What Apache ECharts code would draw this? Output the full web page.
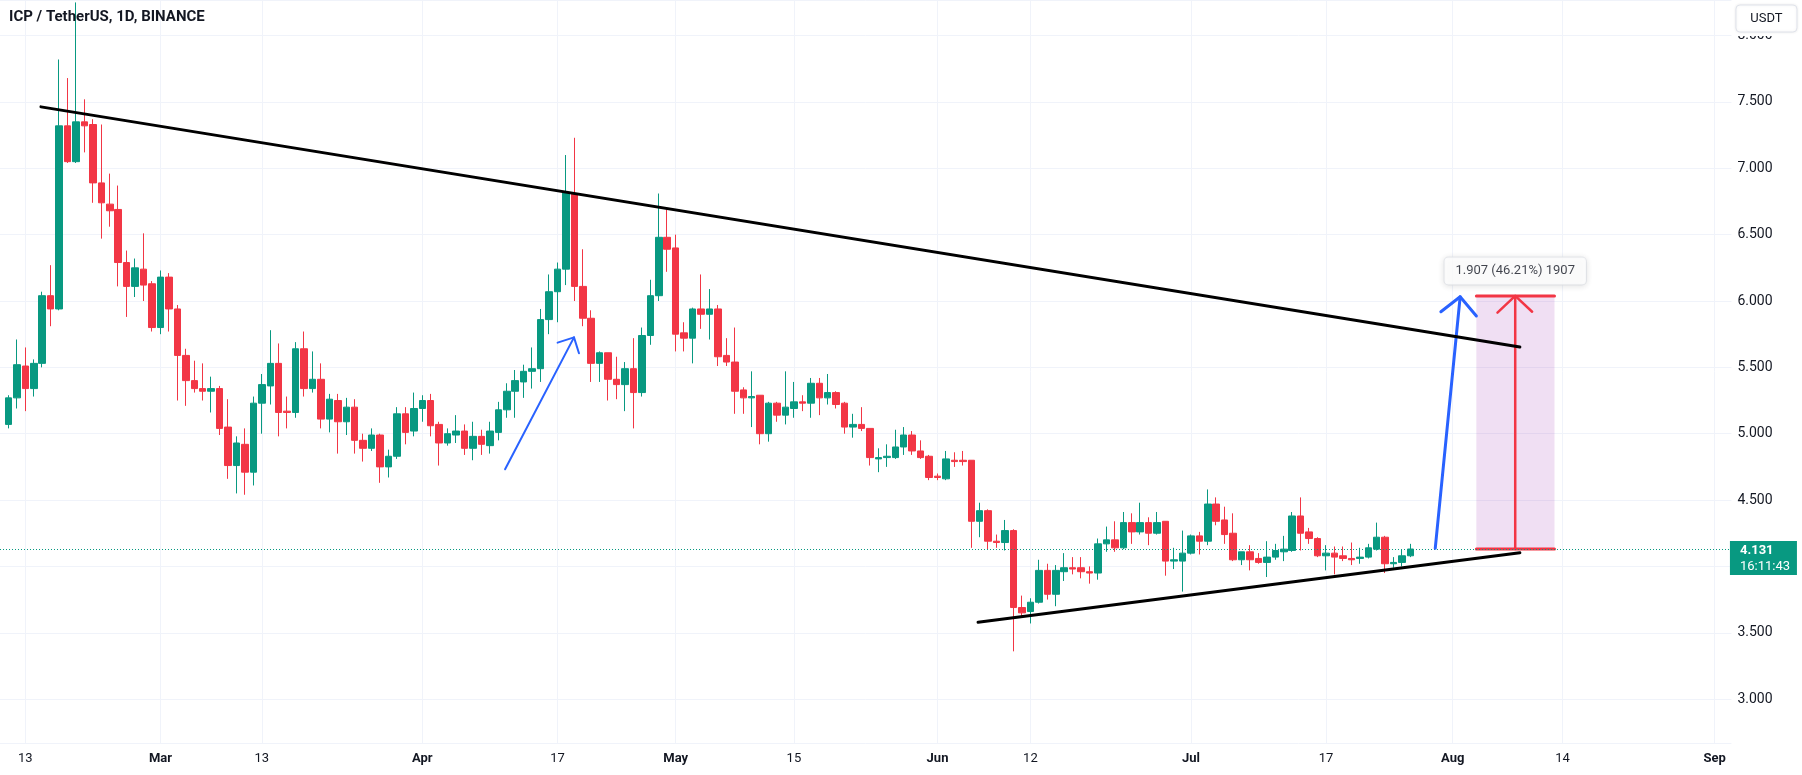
<!DOCTYPE html>
<html><head><meta charset="utf-8">
<script src="https://cdn.jsdelivr.net/npm/echarts@6/dist/echarts.min.js"></script>
<style>html,body{margin:0;padding:0;background:#fff}#c{width:1802px;height:775px}</style>
</head><body><div id="c"></div>
<script>
// ---------------- data ----------------
const chartTitle = 'ICP / TetherUS, 1D, BINANCE';
const axisStart = '2023-02-10';   // first category on the time axis (day offset -3)
const axisEnd   = '2023-09-03';   // last category (day offset 202)
const candleStart = '2023-02-11'; // date of first candle

const opens = [
 5.07,5.27,5.51,5.34,5.53,6.04,5.94,7.32,7.05,7.35,
 7.33,6.89,6.73,6.69,6.29,6.11,6.24,6.13,5.80,6.18,
 5.94,5.59,5.40,5.34,5.32,5.34,5.05,4.76,4.92,4.71,
 5.23,5.36,5.53,5.17,5.16,5.64,5.34,5.41,5.11,5.25,
 5.09,5.20,4.95,4.89,4.99,4.75,4.83,5.15,5.02,5.19,
 5.25,5.07,4.93,4.99,5.02,4.89,4.98,4.91,5.01,5.18,
 5.32,5.39,5.47,5.49,5.86,6.07,6.24,6.81,6.11,5.87,
 5.53,5.61,5.41,5.37,5.49,5.31,5.74,6.04,6.48,6.40,
 5.76,5.72,5.94,5.90,5.94,5.59,5.54,5.33,5.27,5.29,
 5.00,5.23,5.14,5.19,5.24,5.23,5.38,5.27,5.31,5.23,
 5.05,5.07,5.04,4.81,4.82,4.82,4.90,4.99,4.87,4.83,
 4.68,4.66,4.80,4.80,4.80,4.34,4.42,4.19,4.18,4.27,
 3.69,3.66,3.73,3.97,3.79,3.96,3.99,3.99,3.96,3.95,
 4.17,4.20,4.14,4.33,4.26,4.33,4.25,4.34,4.04,4.04,
 4.10,4.23,4.19,4.47,4.35,4.25,4.05,4.11,4.06,4.03,
 4.07,4.11,4.12,4.38,4.26,4.21,4.08,4.10,4.08,4.06,
 4.06,4.07,4.13,4.22,4.02,4.03,4.08
];
const closes = [
 5.27,5.52,5.34,5.53,6.04,5.94,7.32,7.05,7.35,7.32,
 6.89,6.74,6.68,6.29,6.11,6.25,6.12,5.80,6.18,5.94,
 5.59,5.40,5.34,5.32,5.34,5.04,4.76,4.93,4.71,5.23,
 5.37,5.53,5.16,5.16,5.64,5.34,5.41,5.11,5.26,5.09,
 5.20,4.95,4.89,4.99,4.75,4.83,5.15,5.01,5.19,5.25,
 5.06,4.93,5.00,5.02,4.89,4.98,4.92,5.02,5.18,5.32,
 5.40,5.47,5.49,5.86,6.07,6.24,6.82,6.11,5.87,5.53,
 5.61,5.41,5.37,5.49,5.31,5.74,6.04,6.48,6.39,5.75,
 5.72,5.94,5.90,5.94,5.58,5.54,5.32,5.27,5.28,5.00,
 5.23,5.14,5.20,5.24,5.23,5.38,5.27,5.31,5.22,5.05,
 5.07,5.04,4.82,4.82,4.83,4.90,4.99,4.87,4.82,4.67,
 4.67,4.81,4.79,4.79,4.34,4.42,4.19,4.18,4.27,3.69,
 3.65,3.73,3.97,3.79,3.97,3.99,3.98,3.96,3.95,4.17,
 4.20,4.14,4.33,4.26,4.33,4.25,4.33,4.04,4.05,4.10,
 4.23,4.19,4.47,4.34,4.24,4.05,4.11,4.05,4.03,4.07,
 4.12,4.13,4.38,4.25,4.21,4.08,4.10,4.07,4.06,4.05,
 4.07,4.14,4.22,4.02,4.03,4.08,4.131
];
const lows = [
 5.04,5.19,5.17,5.28,5.50,5.81,5.93,7.04,7.04,7.12,
 6.74,6.47,6.56,6.11,5.88,6.03,6.00,5.77,5.75,5.77,
 5.25,5.21,5.31,5.25,5.16,4.99,4.66,4.55,4.54,4.61,
 5.00,5.22,4.98,5.04,5.12,5.28,5.31,5.04,5.01,4.85,
 4.99,4.85,4.79,4.87,4.63,4.67,4.81,4.92,4.98,5.09,
 4.98,4.76,4.91,4.93,4.84,4.80,4.84,4.85,4.95,5.12,
 5.12,5.27,5.34,5.39,5.75,5.84,6.12,6.00,5.81,5.39,
 5.39,5.25,5.26,5.17,5.04,5.28,5.67,6.00,6.22,5.62,
 5.62,5.53,5.79,5.71,5.51,5.51,5.15,5.15,5.05,4.92,
 4.94,5.09,5.07,5.12,5.17,5.12,5.14,5.22,5.19,5.00,
 4.97,5.02,4.76,4.71,4.75,4.81,4.84,4.84,4.81,4.65,
 4.65,4.65,4.75,4.76,4.14,4.22,4.13,4.14,4.12,3.36,
 3.62,3.57,3.72,3.75,3.70,3.89,3.94,3.91,3.87,3.90,
 4.11,4.11,4.13,4.17,4.24,4.16,4.24,3.93,3.98,3.81,
 4.09,4.09,4.16,4.31,4.17,4.04,4.01,3.97,4.02,3.92,
 4.05,4.04,4.11,4.12,4.17,4.07,3.97,3.94,4.04,4.01,
 4.02,4.06,4.12,3.95,3.99,4.00,4.07
];
const highs = [
 5.29,5.71,5.65,5.56,6.07,6.27,7.82,7.68,8.25,7.52,
 7.37,7.33,6.96,6.87,6.38,6.32,6.51,6.15,6.23,6.21,
 5.97,5.64,5.55,5.53,5.43,5.36,5.26,4.98,5.04,5.28,
 5.45,5.78,5.68,5.28,5.69,5.77,5.62,5.53,5.30,5.30,
 5.27,5.26,5.00,5.04,5.00,4.88,5.20,5.20,5.31,5.29,
 5.30,5.09,5.04,5.14,5.07,5.09,5.03,5.09,5.24,5.38,
 5.48,5.52,5.65,5.94,6.20,6.29,7.10,7.23,6.39,5.93,
 5.62,5.61,5.58,5.54,5.72,5.80,6.16,6.81,6.69,6.50,
 5.84,5.95,6.20,6.09,5.97,5.72,5.80,5.35,5.47,5.29,
 5.24,5.24,5.47,5.39,5.29,5.42,5.42,5.45,5.32,5.24,
 5.15,5.20,5.04,4.89,4.92,5.03,5.05,5.02,4.95,4.84,
 4.70,4.87,4.86,4.87,4.80,4.48,4.43,4.24,4.35,4.28,
 3.78,3.76,4.05,4.02,4.01,4.10,4.07,4.07,4.00,4.21,
 4.30,4.34,4.41,4.40,4.48,4.37,4.41,4.34,4.14,4.27,
 4.24,4.26,4.58,4.52,4.45,4.40,4.11,4.16,4.10,4.19,
 4.17,4.23,4.41,4.52,4.29,4.22,4.16,4.15,4.15,4.18,
 4.14,4.17,4.33,4.23,4.07,4.13,4.17
];

const tickDates  = ['2023-02-13','2023-03-01','2023-03-13','2023-04-01','2023-04-17','2023-05-01','2023-05-15','2023-06-01','2023-06-12','2023-07-01','2023-07-17','2023-08-01','2023-08-14','2023-09-01'];
const tickLabels = ['13','Mar','13','Apr','17','May','15','Jun','12','Jul','17','Aug','14','Sep'];

const priceMin = 2.6692, priceMax = 8.2683;
const lastPrice = 4.131;
const countdown = '16:11:43';
const quoteCurrency = 'USDT';

// drawings: [day offset from 2023-02-13, price]
const resistanceLine = [[1.85, 7.463], [176.95, 5.653]];
const supportLine    = [[112.8, 3.579], [176.95, 4.103]];
const blueArrow1     = [[56.8, 4.732], [64.96, 5.726]];
const blueArrow1Head = [[63.02, 5.686], [64.96, 5.726], [65.55, 5.606]];
const blueArrow2     = [[166.93, 4.136], [169.88, 6.032]];
const blueArrow2Head = [[167.6, 5.919], [169.88, 6.032], [171.8, 5.887]];
const rangeX         = [171.8, 181.05];
const rangeFrom = 4.131, rangeTo = 6.038;
const rangeArrowX = 176.4;
const rangeArrowHead = [[174.3, 5.912], [176.4, 6.038], [178.4, 5.919]];
const rangeLabel = '1.907 (46.21%) 1907';
const rangeLabelPos = [176.4, 6.226];
const dayMin = -3, dayMax = 202;

// ---------------- build ----------------
function dayStr(ms){ return new Date(ms).toISOString().slice(0,10); }
const DAY = 86400000;
const t0 = Date.parse(axisStart + 'T00:00:00Z'), t1 = Date.parse(axisEnd + 'T00:00:00Z');
const categories = [];
for (let t = t0; t <= t1; t += DAY) categories.push(dayStr(t));
const lead = categories.indexOf(candleStart);
const candleData = [];
for (let i = 0; i < lead; i++) candleData.push('-');
for (let i = 0; i < opens.length; i++) candleData.push([opens[i], closes[i], lows[i], highs[i]]);

const UP = '#089981', DOWN = '#f23645', TXT = '#131722', GRID = '#f0f3fa';
const isTick = (idx, val) => tickDates.indexOf(val) >= 0;

function lineSeries(data, color, width, z){
  return {type:'line', xAxisIndex:1, yAxisIndex:0, data, symbol:'none', showSymbol:false,
    silent:true, z, animation:false, lineStyle:{color, width, cap:'round', join:'round'}};
}

const chart = echarts.init(document.getElementById('c'), null, {renderer:'canvas'});
const option = {
  animation:false,
  backgroundColor:'#ffffff',
  textStyle:{fontFamily:'Roboto'},
  title:{text:chartTitle, left:9, top:10, padding:0,
    textStyle:{fontSize:15, fontWeight:'bold', color:TXT, fontFamily:'Roboto'}},
  grid:{left:-4.91, top:0, width:1736.35, height:743, containLabel:false},
  xAxis:[{
    type:'category', data:categories, boundaryGap:false,
    axisLine:{show:false}, axisTick:{show:false},
    axisLabel:{interval:isTick, margin:9, color:TXT, fontSize:13, fontFamily:'Roboto',
      formatter:v => { const i = tickDates.indexOf(v); if (i < 0) return ''; const t = tickLabels[i];
        return /^\d+$/.test(t) ? t : '{m|' + t + '}'; },
      rich:{m:{fontWeight:'bold', fontSize:13, color:TXT, fontFamily:'Roboto'}}},
    splitLine:{show:true, interval:isTick, lineStyle:{color:GRID, width:1}}
  },{
    type:'value', min:dayMin, max:dayMax, show:false
  }],
  yAxis:{
    type:'value', position:'right', min:priceMin, max:priceMax, splitNumber:11,
    axisLine:{show:false}, axisTick:{show:false},
    axisLabel:{color:TXT, fontSize:14, margin:6, fontFamily:'Roboto', showMinLabel:false, showMaxLabel:false,
      formatter:v => (Math.abs(v - lastPrice) < 0.2 ? '' : v.toFixed(3))},
    splitLine:{show:true, lineStyle:{color:GRID, width:1}}
  },
  series:[
    {
      type:'candlestick', xAxisIndex:0, yAxisIndex:0, data:candleData, barWidth:7, z:3,
      itemStyle:{color:UP, color0:DOWN, borderColor:UP, borderColor0:DOWN, borderWidth:1},
      markLine:{silent:true, symbol:['none','none'], animation:false,
        label:{show:false}, lineStyle:{color:UP, type:[1,2], width:1},
        data:[{yAxis:lastPrice}]}
    },
    Object.assign(lineSeries([[rangeX[0], rangeTo],[rangeX[1], rangeTo]], DOWN, 3, 4), {
      markArea:{silent:true, itemStyle:{color:'rgba(156,39,176,0.15)'},
        data:[[{coord:[rangeX[0], rangeTo]}, {coord:[rangeX[1], rangeFrom]}]]}
    }),
    lineSeries([[rangeX[0], rangeFrom],[rangeX[1], rangeFrom]], DOWN, 3, 4),
    lineSeries([[rangeArrowX, rangeFrom],[rangeArrowX, rangeTo]], DOWN, 2.5, 4),
    lineSeries(rangeArrowHead, DOWN, 2.5, 4),
    lineSeries(resistanceLine, '#000000', 3, 6),
    lineSeries(supportLine, '#000000', 3, 6),
    lineSeries(blueArrow1, '#2962ff', 2, 5),
    lineSeries(blueArrow1Head, '#2962ff', 2, 5),
    lineSeries(blueArrow2, '#2962ff', 3, 5),
    lineSeries(blueArrow2Head, '#2962ff', 3, 5),
    {
      type:'scatter', xAxisIndex:1, yAxisIndex:0, data:[rangeLabelPos], symbolSize:1, z:8, silent:true,
      itemStyle:{color:'rgba(0,0,0,0)'},
      label:{show:true, position:'inside', formatter:rangeLabel, color:TXT, fontSize:13, fontFamily:'Roboto',
        backgroundColor:'#ffffff', borderColor:'#e6e8ee', borderWidth:1, borderRadius:4,
        padding:[7,11], shadowBlur:6, shadowColor:'rgba(0,0,0,0.12)', shadowOffsetY:1}
    }
  ]
};
chart.setOption(option);

const yLast = chart.convertToPixel({yAxisIndex:0}, lastPrice);
const xRight = chart.convertToPixel({xAxisIndex:1}, dayMax);
chart.setOption({graphic:[
  {type:'rect', z:100, shape:{x:xRight - 1.5, y:yLast - 8, width:67, height:34}, style:{fill:UP}},
  {type:'text', z:101, x:xRight + 8.5, y:yLast + 2, style:{text:lastPrice.toFixed(3), fill:'#fff', font:'bold 13px Roboto', textVerticalAlign:'middle'}},
  {type:'text', z:101, x:xRight + 8.5, y:yLast + 18, style:{text:countdown, fill:'#fff', font:'13px Roboto', textVerticalAlign:'middle'}},
  {type:'rect', z:100, shape:{x:xRight + 2, y:0, width:70, height:36}, style:{fill:'#fff'}},
  {type:'rect', z:101, shape:{x:xRight + 4.5, y:5, width:61, height:27, r:4},
    style:{fill:'#fff', stroke:'#e0e3eb', lineWidth:1, shadowBlur:3, shadowColor:'rgba(0,0,0,0.08)'}},
  {type:'text', z:102, x:xRight + 35, y:18.5, style:{text:quoteCurrency, fill:TXT, font:'13px Roboto', textAlign:'center', textVerticalAlign:'middle'}}
]});
</script></body></html>
